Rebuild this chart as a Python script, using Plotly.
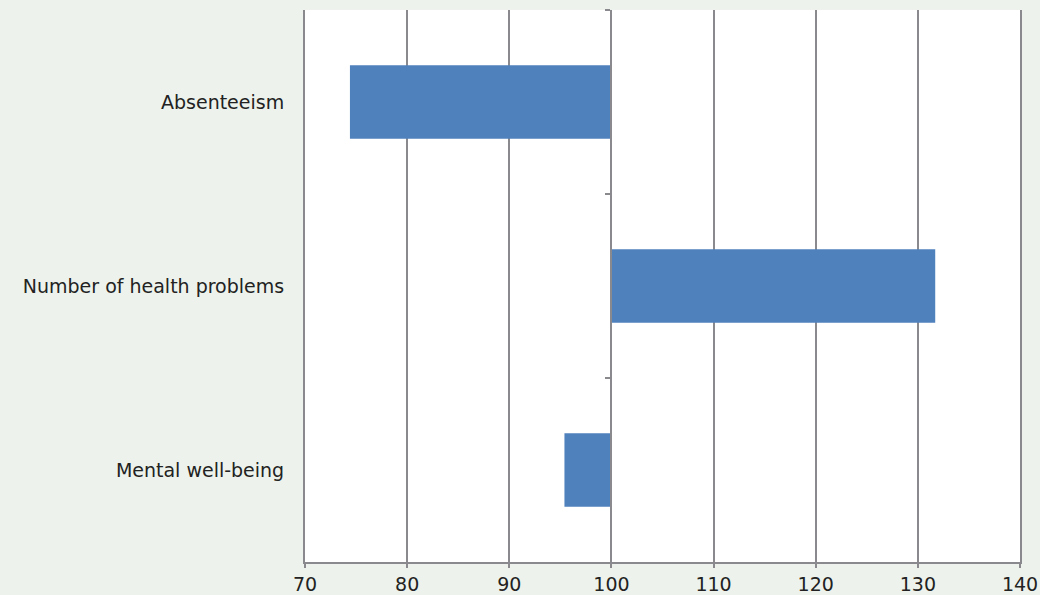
import plotly.graph_objects as go

categories = ["Absenteeism", "Number of health problems", "Mental well-being"]
values = [74.4, 131.7, 95.4]
baseline = 100
x_ticks = [70, 80, 90, 100, 110, 120, 130, 140]

grid = "#8a8a8e"
font = dict(family="DejaVu Sans, Verdana, sans-serif", size=19, color="#222222")

fig = go.Figure()
fig.add_trace(go.Bar(
    y=categories,
    x=[v - baseline for v in values],
    base=baseline,
    orientation="h",
    width=0.4,
    marker=dict(color="#4F81BD", line=dict(width=0)),
    hoverinfo="skip",
    showlegend=False,
))
# invisible trace to carry the category axis crossing at 100
fig.add_trace(go.Scatter(
    y=categories, x=[baseline] * len(categories), yaxis="y2",
    mode="markers", marker=dict(opacity=0), hoverinfo="skip", showlegend=False,
))

fig.update_layout(
    width=1040, height=595,
    margin=dict(l=305, r=20, t=10, b=33, autoexpand=False),
    paper_bgcolor="#EDF3EC",
    plot_bgcolor="white",
    font=font,
    bargap=0.6,
    xaxis=dict(
        range=[70, 140], tickvals=x_ticks, ticktext=[str(t) for t in x_ticks],
        showgrid=True, gridcolor=grid, gridwidth=2,
        showline=True, linecolor=grid, linewidth=2,
        ticks="outside", ticklen=4, tickwidth=2, tickcolor=grid,
        zeroline=False, tickfont=font, automargin=False,
    ),
    yaxis=dict(
        categoryorder="array", categoryarray=categories, autorange="reversed",
        showgrid=False, zeroline=False,
        showline=True, mirror=True, linecolor=grid, linewidth=2,
        ticks="outside", ticklen=15, tickcolor="rgba(0,0,0,0)",
        tickfont=font, automargin=False,
    ),
    yaxis2=dict(
        matches="y", overlaying="y", anchor="free", position=30 / 70,
        categoryorder="array", categoryarray=categories,
        showgrid=False, zeroline=False, showticklabels=False,
        showline=True, linecolor=grid, linewidth=2,
        ticks="outside", tickson="boundaries", ticklen=5, tickwidth=2, tickcolor=grid,
        automargin=False,
    ),
)

fig.write_html("out.html")
